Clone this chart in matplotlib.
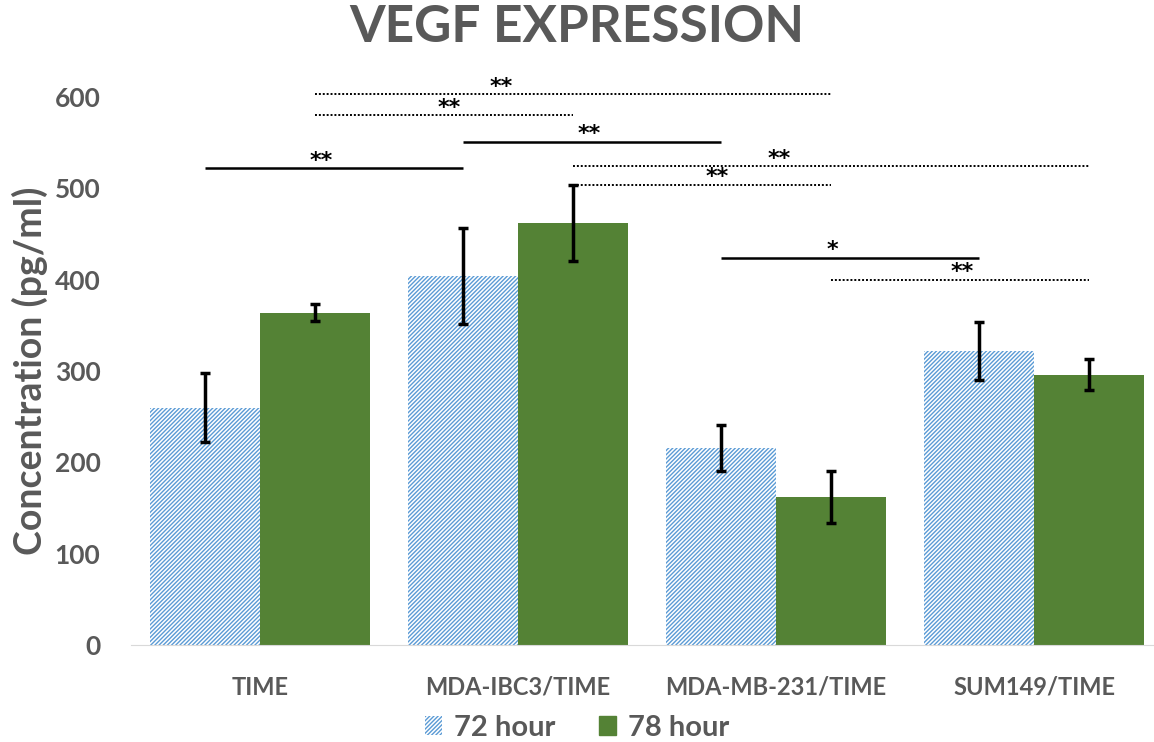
import matplotlib.pyplot as plt
import matplotlib.patches as mpatches
import numpy as np

plt.rcParams['font.family'] = ['Lato', 'DejaVu Sans']
plt.rcParams['hatch.linewidth'] = 1.0

categories = ['TIME', 'MDA-IBC3/TIME', 'MDA-MB-231/TIME', 'SUM149/TIME']
series_names = ['72 hour', '78 hour']
vals_72 = [260, 404, 216, 322]
err_72 = [38, 53, 25, 32]
vals_78 = [364, 462, 162, 296]
err_78 = [9, 42, 28, 17]

# significance brackets: (group a, group b, series index, height, label, label pos along line)
sig_pairs = [
    (0, 2, 1, 603, '**', 0.36),
    (0, 1, 1, 580, '**', 0.52),
    (1, 2, 0, 551, '**', 0.49),
    (0, 1, 0, 522, '**', 0.45),
    (1, 3, 1, 524, '**', 0.40),
    (1, 2, 1, 504, '**', 0.56),
    (2, 3, 0, 424, '*', 0.43),
    (2, 3, 1, 400, '**', 0.51),
]

grey = '#595959'
blue = '#5B9BD5'
green = '#548235'

fig = plt.figure(figsize=(11.54, 7.42), dpi=100)
ax = fig.add_axes([131 / 1154, 97 / 742, 1 - 131 / 1154, 548 / 742])

x = np.arange(len(categories))
w = 0.426
off = [-w / 2, w / 2]

ax.bar(x + off[0], vals_72, w, facecolor='white', edgecolor=blue, linewidth=0,
       hatch='////////', label=series_names[0])
ax.bar(x + off[1], vals_78, w, color=green, label=series_names[1])
ax.errorbar(x + off[0], vals_72, yerr=err_72, fmt='none', ecolor='black',
            elinewidth=2.5, capsize=3.5, capthick=2.5)
ax.errorbar(x + off[1], vals_78, yerr=err_78, fmt='none', ecolor='black',
            elinewidth=2.5, capsize=3.5, capthick=2.5)

for a, b, s, h, lab, fr in sig_pairs:
    x0, x1 = x[a] + off[s], x[b] + off[s]
    ls = '-' if s == 0 else (0, (1, 1))
    ax.plot([x0, x1], [h, h], color='black', lw=1.8 if s == 0 else 1.4, ls=ls,
            solid_capstyle='butt', clip_on=False)
    ax.text(x0 + fr * (x1 - x0), h - 3, lab, ha='center', va='bottom',
            fontsize=16, fontweight='bold', fontfamily='DejaVu Sans', color='black')

ax.set_ylim(0, 600)
ax.set_xlim(-0.5, 3.465)
ax.set_yticks([0, 100, 200, 300, 400, 500, 600])
ax.set_xticks(x)
ax.set_xticklabels(categories, fontsize=17, fontweight='bold', color=grey)
ax.tick_params(axis='both', length=0)
ax.tick_params(axis='x', pad=22)
ax.tick_params(axis='y', pad=22)
for t in ax.get_yticklabels():
    t.set_fontsize(19)
    t.set_fontweight('bold')
    t.set_color(grey)
for sp in ['top', 'right', 'left']:
    ax.spines[sp].set_visible(False)
ax.spines['bottom'].set_color('#d9d9d9')

ax.set_ylabel('Concentration (pg/ml)', fontsize=27, fontweight='bold',
              color=grey)
ax.yaxis.set_label_coords(-0.081, 0.5)

fig.suptitle('VEGF EXPRESSION', fontsize=37, fontweight='bold', color=grey,
             x=0.5, y=0.995)

h1 = mpatches.Patch(facecolor='white', edgecolor=blue, linewidth=0,
                    hatch='////////', label=series_names[0])
h2 = mpatches.Patch(color=green, label=series_names[1])
leg = fig.legend(handles=[h1, h2], loc='lower center', ncol=2, frameon=False,
                 bbox_to_anchor=(0.5, -0.018), prop={'size': 21, 'weight': 'bold'},
                 handlelength=0.6, handleheight=0.6, handletextpad=0.4,
                 columnspacing=1.5, borderpad=0)
for t in leg.get_texts():
    t.set_color(grey)

fig.savefig('out.png', dpi=100)
